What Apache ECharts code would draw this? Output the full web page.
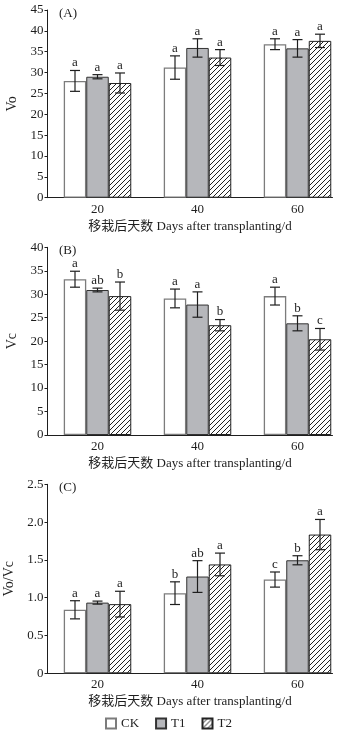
<!DOCTYPE html>
<html>
<head>
<meta charset="utf-8">
<script src="https://cdn.jsdelivr.net/npm/echarts@6/dist/echarts.min.js"></script>
<style>
html, body { margin: 0; padding: 0; background: #fff; }
#chart { width: 346px; height: 733px; }
</style>
</head>
<body>
<div id="chart"></div>
<script>
// Days after transplanting and treatments
const days = [20, 40, 60];
const dayLabels = ['20', '40', '60'];
const treatments = ['CK', 'T1', 'T2'];

// (A) Vo
const voCK = [28.0, 31.2, 36.8];
const voT1 = [29.0, 35.9, 35.8];
const voT2 = [27.5, 33.6, 37.6];
const voErrCK = [2.5, 2.8, 1.3];
const voErrT1 = [0.5, 2.2, 2.1];
const voErrT2 = [2.4, 1.9, 1.6];
const voSigCK = ['a', 'a', 'a'];
const voSigT1 = ['a', 'a', 'a'];
const voSigT2 = ['a', 'a', 'a'];

// (B) Vc
const vcCK = [33.2, 29.1, 29.6];
const vcT1 = [30.9, 27.8, 23.8];
const vcT2 = [29.6, 23.4, 20.4];
const vcErrCK = [1.7, 2.0, 1.9];
const vcErrT1 = [0.4, 2.7, 1.6];
const vcErrT2 = [3.0, 1.2, 2.3];
const vcSigCK = ['a', 'a', 'a'];
const vcSigT1 = ['ab', 'a', 'b'];
const vcSigT2 = ['b', 'b', 'c'];

// (C) Vo/Vc
const ratioCK = [0.84, 1.06, 1.24];
const ratioT1 = [0.935, 1.28, 1.495];
const ratioT2 = [0.915, 1.44, 1.835];
const ratioErrCK = [0.12, 0.15, 0.10];
const ratioErrT1 = [0.02, 0.21, 0.06];
const ratioErrT2 = [0.17, 0.15, 0.20];
const ratioSigCK = ['a', 'b', 'c'];
const ratioSigT1 = ['a', 'ab', 'b'];
const ratioSigT2 = ['a', 'a', 'a'];

// y-axis tick labels per panel
const voTicks = ['0', '5', '10', '15', '20', '25', '30', '35', '40', '45'];
const vcTicks = ['0', '5', '10', '15', '20', '25', '30', '35', '40'];
const ratioTicks = ['0', '0.5', '1.0', '1.5', '2.0', '2.5'];

const panels = [
  { tag: '(A)', yName: 'Vo', max: 45, step: 5, ticks: voTicks,
    means: [voCK, voT1, voT2], errs: [voErrCK, voErrT1, voErrT2], sigs: [voSigCK, voSigT1, voSigT2] },
  { tag: '(B)', yName: 'Vc', max: 40, step: 5, ticks: vcTicks,
    means: [vcCK, vcT1, vcT2], errs: [vcErrCK, vcErrT1, vcErrT2], sigs: [vcSigCK, vcSigT1, vcSigT2] },
  { tag: '(C)', yName: 'Vo/Vc', max: 2.5, step: 0.5, ticks: ratioTicks,
    means: [ratioCK, ratioT1, ratioT2], errs: [ratioErrCK, ratioErrT1, ratioErrT2], sigs: [ratioSigCK, ratioSigT1, ratioSigT2] }
];

const SERIF = '"Liberation Serif", "Times New Roman", "Noto Sans CJK SC", serif';
const INK = '#1e1e1e';
const BAR_W = 22.5;
const CAP = 10;

// diagonal hatch tile for T2
function hatchTile() {
  const s = 5;
  const c = document.createElement('canvas');
  c.width = s; c.height = s;
  const g = c.getContext('2d');
  g.fillStyle = '#fff';
  g.fillRect(0, 0, s, s);
  g.strokeStyle = '#222';
  g.lineWidth = 1;
  g.beginPath();
  g.moveTo(-1, s + 1); g.lineTo(s + 1, -1);
  g.moveTo(-1, 1); g.lineTo(1, -1);
  g.moveTo(s - 1, s + 1); g.lineTo(s + 1, s - 1);
  g.stroke();
  return c;
}

const barStyles = [
  { color: '#ffffff', borderColor: '#7c7c7c', borderWidth: 1.3 },
  { color: '#b6b7bb', borderColor: '#333333', borderWidth: 1 },
  { color: { image: hatchTile(), repeat: 'repeat' }, borderColor: '#222222', borderWidth: 1 }
];

const gridBoxes = [
  { left: 47.5, top: 10, width: 285, height: 187.7 },
  { left: 47.5, top: 247.3, width: 285, height: 187.7 },
  { left: 47.5, top: 484.3, width: 285, height: 189 }
];

const grid = [], xAxis = [], yAxis = [], series = [], title = [];

panels.forEach((p, pi) => {
  grid.push(Object.assign({ containLabel: false, outerBoundsMode: 'none' }, gridBoxes[pi]));
  title.push({
    text: p.tag, left: 54, top: gridBoxes[pi].top - 8,
    textStyle: { fontFamily: SERIF, fontSize: 13, fontWeight: 'normal', color: INK }
  });
  xAxis.push({
    type: 'value', gridIndex: pi, min: 10, max: 67,
    splitLine: { show: false },
    axisLine: { show: true, lineStyle: { color: INK, width: 1 } },
    axisTick: { show: false },
    axisLabel: {
      customValues: days,
      formatter: v => dayLabels[days.indexOf(v)] || '',
      fontFamily: SERIF, fontSize: 13, color: INK, margin: 5
    },
    name: '移栽后天数 Days after transplanting/d',
    nameLocation: 'middle', nameGap: 22,
    nameTextStyle: { fontFamily: SERIF, fontSize: 13, color: INK }
  });
  yAxis.push({
    type: 'value', gridIndex: pi, min: 0, max: p.max, interval: p.step,
    splitLine: { show: false },
    axisLine: { show: true, lineStyle: { color: INK, width: 1 } },
    axisTick: { show: true, inside: false, length: 3, lineStyle: { color: INK } },
    axisLabel: {
      formatter: v => p.ticks[Math.round(v / p.step)],
      fontFamily: SERIF, fontSize: 13, color: INK, margin: 4
    },
    name: p.yName, nameLocation: 'middle', nameGap: 28, nameRotate: 90,
    nameTextStyle: { fontFamily: SERIF, fontSize: 14, color: INK }
  });

  // bars
  treatments.forEach((t, ti) => {
    series.push({
      type: 'bar', name: t, xAxisIndex: pi, yAxisIndex: pi,
      barWidth: BAR_W, barGap: '0%',
      itemStyle: barStyles[ti],
      emphasis: { disabled: true },
      data: days.map((d, di) => [d, p.means[ti][di]]),
      z: 2
    });
  });

  // error bars with significance letters
  const errData = [];
  const letters = [];
  treatments.forEach((t, ti) => {
    days.forEach((d, di) => {
      errData.push([d, p.means[ti][di], p.errs[ti][di], ti]);
      letters.push(p.sigs[ti][di]);
    });
  });
  series.push({
    type: 'custom', xAxisIndex: pi, yAxisIndex: pi, z: 5,
    silent: true,
    data: errData,
    renderItem: (params, api) => {
      const x = api.value(0), m = api.value(1), e = api.value(2), ti = api.value(3);
      const hi = api.coord([x, m + e]);
      const lo = api.coord([x, m - e]);
      const cx = hi[0] + (ti - 1) * BAR_W;
      const ls = { stroke: INK, lineWidth: 1.2 };
      return {
        type: 'group',
        children: [
          { type: 'line', shape: { x1: cx, y1: hi[1], x2: cx, y2: lo[1] }, style: ls },
          { type: 'line', shape: { x1: cx - CAP / 2, y1: hi[1], x2: cx + CAP / 2, y2: hi[1] }, style: ls },
          { type: 'line', shape: { x1: cx - CAP / 2, y1: lo[1], x2: cx + CAP / 2, y2: lo[1] }, style: ls },
          { type: 'text', style: {
              text: letters[params.dataIndex], x: cx, y: hi[1] - 1,
              align: 'center', verticalAlign: 'bottom',
              font: '13px ' + SERIF, fill: INK } }
        ]
      };
    }
  });
});

const chart = echarts.init(document.getElementById('chart'), null, { renderer: 'canvas' });
chart.setOption({
  animation: false,
  backgroundColor: '#ffffff',
  title,
  grid, xAxis, yAxis, series,
  legend: {
    data: treatments, left: 105, top: 717, padding: 0,
    icon: 'rect', itemWidth: 10, itemHeight: 10, itemGap: 16,
    textStyle: { fontFamily: SERIF, fontSize: 13, color: INK }
  }
});
</script>
</body>
</html>
